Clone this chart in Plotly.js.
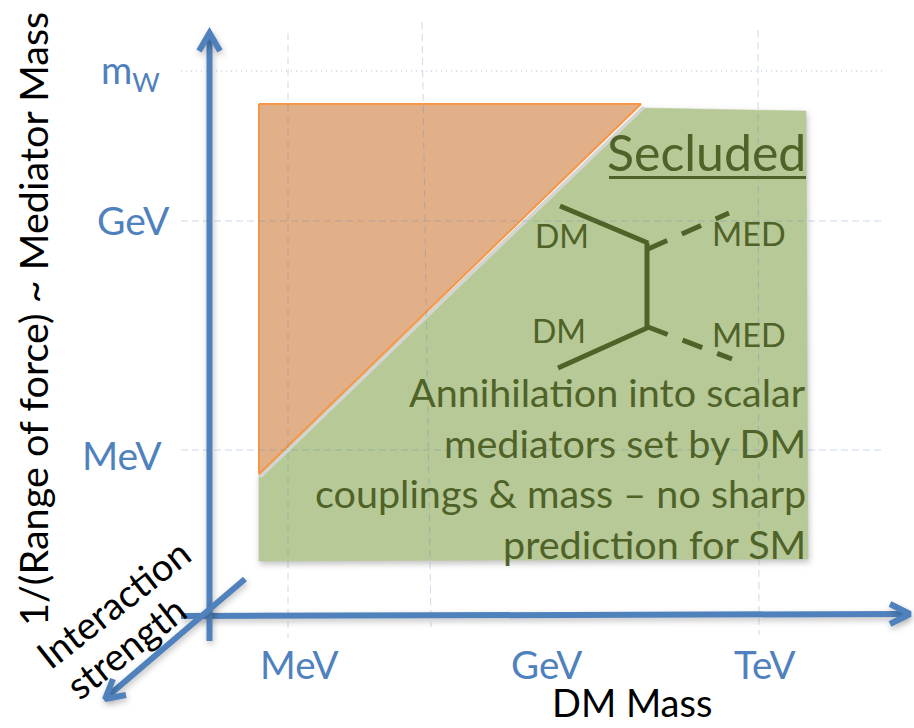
<!DOCTYPE html>
<html>
<head>
<meta charset="utf-8">
<script src="https://cdn.plot.ly/plotly-3.0.1.min.js"></script>
<style>html,body{margin:0;padding:0;background:#fff;overflow:hidden}#chart{width:914px;height:728px}</style>
</head>
<body>
<div id="chart"></div>
<script>
// Schematic regions and axes, in chart units
const massAxisX = [181, 906], massAxisY = [616, 614];
const massHeadX = [890, 910, 890], massHeadY = [604, 614, 624];
const mediatorAxisX = [209.5, 209.5], mediatorAxisY = [641, 36];
const mediatorHeadX = [199, 209.5, 220], mediatorHeadY = [51, 33, 51];
const strengthAxisX = [245, 108], strengthAxisY = [579, 696];
const strengthHeadX = [113, 105, 126], strengthHeadY = [679, 699, 695];

const securedX = [259, 642, 806, 808, 259, 259];
const securedY = [474, 108, 111, 559, 561, 474];
const excludedX = [259, 641, 259, 259];
const excludedY = [104, 104, 474, 104];
const edgeX = [260, 644], edgeY = [477, 107];

const gridVX = [[288, 288], [422, 431], [758, 759]];
const gridVY = [[33, 638], [22, 627], [30, 635]];
const gridHX = [[181, 883], [181, 883], [181, 883]];
const gridHY = [[71, 71], [221, 221], [450, 450]];
const gridHDash = ['1px,4px', '7px,4px', '7px,4px'];

const dmInX = [560, 648, 647, 647, 558], dmInY = [206, 243, 243, 328, 368];
const medUpX = [648, 729], medUpY = [249, 213];
const medDownX = [648, 732], medDownY = [327, 359];
const underlineX = [609, 806], underlineY = [177.5, 177.5];

const yTickLabels = ['m<sub>W</sub>', 'GeV', 'MeV'];
const yTickX = [101, 97, 82], yTickY = [72, 220, 455];
const xTickLabels = ['MeV', 'GeV', 'TeV'];
const xTickX = [299, 546, 765], xTickY = [664, 664, 664];
const bodyLines = ['Annihilation into scalar', 'mediators set by DM', 'couplings &amp; mass – no sharp', 'prediction for SM'];
const bodyY = [391, 442, 492, 543];

const BLUE = '#4F81BD', DARK = '#4F6228', TICK = '#4F81BD';
const GRID = 'rgba(79,129,189,0.3)';
const FONT = 'Lato, Carlito, "Open Sans", sans-serif';

function line(x, y, color, width, dash) {
  return {x, y, type: 'scatter', mode: 'lines', hoverinfo: 'skip',
    line: {color, width, dash: dash || 'solid', shape: 'linear'}};
}
function area(x, y, fill, edge, width) {
  return {x, y, type: 'scatter', mode: 'lines', fill: 'toself', fillcolor: fill, hoverinfo: 'skip',
    line: {color: edge, width}};
}

const traces = [
  area(securedX, securedY, '#B7C997', '#B7C997', 0.5),
  line(massAxisX, massAxisY, BLUE, 6),
  line(massHeadX, massHeadY, BLUE, 6),
  line(mediatorAxisX, mediatorAxisY, BLUE, 6),
  line(mediatorHeadX, mediatorHeadY, BLUE, 6),
  line(strengthAxisX, strengthAxisY, BLUE, 6),
  line(strengthHeadX, strengthHeadY, BLUE, 6),
  line(edgeX, edgeY, '#D4D4D0', 3.5),
  area(excludedX, excludedY, '#E2B088', '#F79646', 2),
  line(dmInX, dmInY, DARK, 5),
  line(medUpX, medUpY, DARK, 5, '21px,16px'),
  line(medDownX, medDownY, DARK, 5, '21px,16px'),
  line(underlineX, underlineY, DARK, 3),
];
const shadowCount = 7;
gridVX.forEach((x, i) => traces.push(line(x, gridVY[i], GRID, 1, '7px,5px')));
gridHX.forEach((x, i) => traces.push(line(x, gridHY[i], GRID, i === 0 ? 1.5 : 1, gridHDash[i])));

function note(text, x, y, size, color, xanchor, angle) {
  return {text, x, y, xref: 'x', yref: 'y', showarrow: false, xanchor: xanchor || 'center', yanchor: 'middle',
    textangle: angle || 0, font: {family: FONT, size, color}, borderpad: 0, borderwidth: 0};
}
const annotations = [];
yTickLabels.forEach((t, i) => annotations.push(note(t, yTickX[i], yTickY[i], i === 0 ? 38 : 39, TICK, 'left')));
xTickLabels.forEach((t, i) => annotations.push(note(t, xTickX[i], xTickY[i], 38.5, TICK)));
annotations.push(note('Secluded', 806, 152, 50, DARK, 'right'));
bodyLines.forEach((t, i) => annotations.push(note(t, 806, bodyY[i], 39.5, DARK, 'right')));
annotations.push(note('DM', 562, 235, 32, DARK));
annotations.push(note('DM', 559, 330, 32, DARK));
annotations.push(note('MED', 749, 233, 32.5, DARK));
annotations.push(note('MED', 749, 334, 32.5, DARK));
annotations.push(note('DM Mass', 632, 702, 38, '#000'));
annotations.push(note('1/(Range of force) ~ Mediator Mass', 32, 319, 39.6, '#000', 'center', -90));
annotations.push(note('Interaction', 113, 603, 38, '#000', 'center', -38));
annotations.push(note('strength', 125, 647, 38, '#000', 'center', -38));

const hiddenAxis = {visible: false, showgrid: false, zeroline: false, fixedrange: true};
const layout = {
  width: 914, height: 728, margin: {l: 0, r: 0, t: 0, b: 0},
  paper_bgcolor: '#fff', plot_bgcolor: '#fff', showlegend: false,
  xaxis: Object.assign({range: [0, 914]}, hiddenAxis),
  yaxis: Object.assign({range: [728, 0]}, hiddenAxis),
  annotations
};
Plotly.newPlot('chart', traces, layout, {displayModeBar: false, staticPlot: true}).then(gd => {
  const groups = gd.querySelectorAll('.scatterlayer .trace');
  groups.forEach((g, i) => {
    if (i < shadowCount) g.style.filter = 'drop-shadow(1px 3px 3px rgba(0,0,0,0.25))';
  });
});
</script>
</body>
</html>
